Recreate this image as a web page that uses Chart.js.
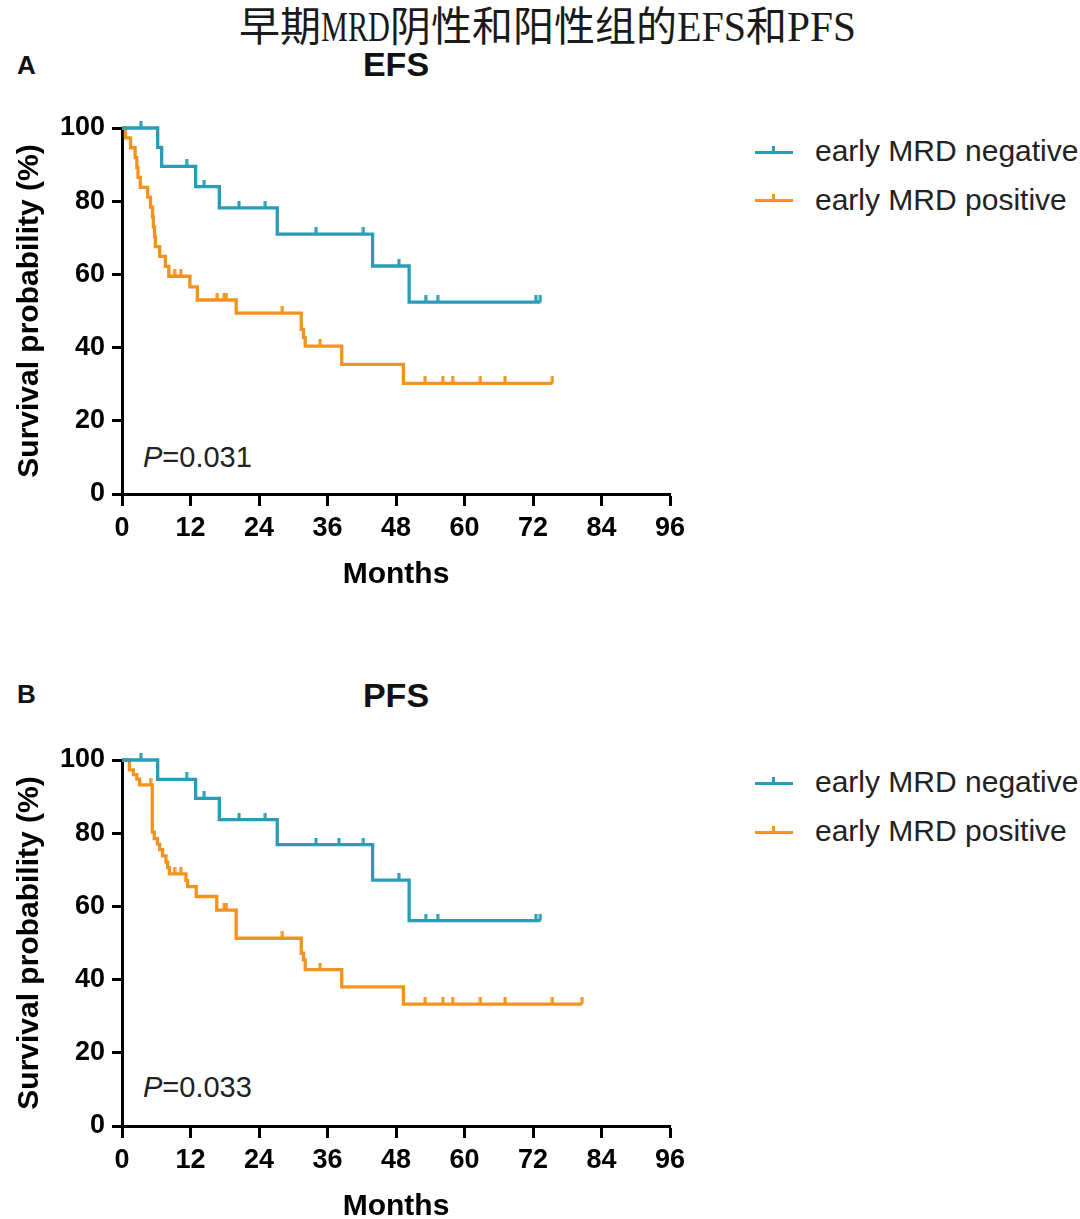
<!DOCTYPE html>
<html>
<head>
<meta charset="utf-8">
<script src="https://cdn.jsdelivr.net/npm/chart.js@4.4.1/dist/chart.umd.min.js"></script>
<style>
  html, body { margin:0; padding:0; background:#fff; overflow:hidden; width:1080px; height:1219px; }
  body { position:relative; font-family:'Liberation Sans', Arial, sans-serif; color:#111; }
  .abs { position:absolute; white-space:nowrap; }
  #title { left:0; width:1095px; top:-2px; text-align:center; font-size:41px; line-height:50px; color:#1a1a1a; }
  #title .cjk { font-family:'Noto Sans CJK SC', sans-serif; font-weight:400; }
  #title .lat { display:inline-block; font-family:'Liberation Serif', serif; font-size:42px; vertical-align:baseline; }
  #title .lat > span { display:inline-block; transform-origin:0 50%; }
  .panel { font-weight:bold; font-size:26px; }
  .ctitle { font-weight:bold; font-size:34px; transform:translateX(-50%); }
  .pval { font-size:29px; color:#222; }
  .leg { font-size:30px; color:#222; }
  .legline { position:absolute; width:38px; height:3px; }
  .legline i { position:absolute; left:17px; top:-5px; width:3px; height:6px; background:inherit; }
  canvas { position:absolute; left:0; }
</style>
</head>
<body>
<div id="title" class="abs"><span class="cjk">早期</span><span class="lat"><span>MRD</span></span><span class="cjk">阴性和阳性组的</span><span class="lat"><span>EFS</span></span><span class="cjk">和</span><span class="lat"><span>PFS</span></span></div>

<div class="abs panel" style="left:17px; top:50px;">A</div>
<div class="abs ctitle" style="left:396px; top:45px;">EFS</div>
<div class="abs panel" style="left:17px; top:679px;">B</div>
<div class="abs ctitle" style="left:396px; top:676px;">PFS</div>

<div class="abs pval" style="left:143px; top:441px;"><i>P</i>=0.031</div>
<div class="abs pval" style="left:143px; top:1071px;"><i>P</i>=0.033</div>

<div class="legline" style="left:755px; top:151px; background:#2a9cb6;"><i></i></div>
<div class="abs leg" style="left:815px; top:134px;">early MRD negative</div>
<div class="legline" style="left:755px; top:199px; background:#f3931f;"><i></i></div>
<div class="abs leg" style="left:815px; top:183px;">early MRD positive</div>

<div class="legline" style="left:755px; top:782px; background:#2a9cb6;"><i></i></div>
<div class="abs leg" style="left:815px; top:765px;">early MRD negative</div>
<div class="legline" style="left:755px; top:831px; background:#f3931f;"><i></i></div>
<div class="abs leg" style="left:815px; top:814px;">early MRD positive</div>

<canvas id="efs" width="700" height="504" style="top:90px;"></canvas>
<canvas id="pfs" width="700" height="504" style="top:722px;"></canvas>

<script>
// ---------------- DATA ----------------
const xTicks = [0, 12, 24, 36, 48, 60, 72, 84, 96];
const yTicks = [0, 20, 40, 60, 80, 100];
const seriesNames = ['early MRD negative', 'early MRD positive'];

// EFS - early MRD negative
const efsNegTimes  = [0, 6.25, 6.95, 12.9, 17.05, 27.2, 43.9, 50.3];
const efsNegSurv   = [100, 94.7, 89.5, 84.0, 78.2, 71.0, 62.3, 52.4];
const efsNegCensor = [3.3, 11.3, 14.4, 20.5, 25.1, 34.0, 42.3, 48.5, 53.2, 55.3, 72.5, 73.3];

// EFS - early MRD positive
const efsPosTimes  = [0, 0.6, 1.5, 2.3, 2.6, 2.8, 3.2, 4.5, 5.0, 5.35, 5.5, 5.7, 5.85, 6.6, 7.6, 8.2, 11.9, 13.2, 20.0, 31.4, 31.8, 32.1, 38.5, 49.3];
const efsPosSurv   = [100, 97.3, 94.6, 91.9, 89.2, 86.5, 83.8, 81.1, 78.4, 75.7, 73.0, 70.3, 67.6, 64.9, 62.2, 59.5, 56.6, 53.0, 49.4, 45.0, 42.7, 40.4, 35.4, 30.2];
const efsPosCensor = [9.2, 10.3, 16.7, 17.9, 18.3, 28.1, 34.7, 53.1, 56.2, 57.9, 62.8, 67.1, 75.4];

// PFS - early MRD negative
const pfsNegTimes  = [0, 6.25, 12.9, 17.05, 27.2, 43.9, 50.3];
const pfsNegSurv   = [100, 94.7, 89.5, 83.7, 76.9, 67.2, 56.1];
const pfsNegCensor = [3.3, 11.3, 14.4, 20.5, 25.1, 34.0, 38.0, 42.3, 48.5, 53.2, 55.3, 72.5, 73.3];

// PFS - early MRD positive
const pfsPosTimes  = [0, 1.3, 2.0, 2.6, 3.1, 5.3, 5.65, 6.2, 6.6, 7.1, 7.7, 8.0, 8.3, 11.2, 11.5, 13.0, 16.6, 20.0, 31.4, 31.8, 32.1, 38.5, 49.3];
const pfsPosSurv   = [100, 97.3, 96.0, 94.8, 93.2, 80.3, 78.5, 77.0, 75.5, 73.8, 72.1, 70.6, 68.9, 67.1, 65.4, 62.7, 59.0, 51.3, 47.2, 45.4, 42.7, 38.0, 33.3];
const pfsPosCensor = [5.0, 9.2, 10.3, 17.9, 18.3, 28.1, 34.7, 53.1, 56.2, 57.9, 62.8, 67.1, 75.4, 80.6];

// ---------------- STYLE ----------------
const BLUE = '#2a9cb6';
const ORANGE = '#f3931f';
const FONT = "'Liberation Sans', Arial, sans-serif";

// title: condense Latin segments
document.querySelectorAll('#title .lat').forEach(function (outer) {
  const inner = outer.firstElementChild;
  const natural = inner.getBoundingClientRect().width;
  const target = inner.textContent.length * 23;
  outer.style.width = target + 'px';
  inner.style.transform = 'scaleX(' + (target / natural) + ')';
});

function tickImage(color) {
  const c = document.createElement('canvas');
  c.width = 4; c.height = 14;
  const g = c.getContext('2d');
  g.fillStyle = color;
  g.fillRect(0.5, 0, 3, 7);
  return c;
}

function survAt(times, surv, t) {
  let s = surv[0];
  for (let i = 0; i < times.length; i++) { if (times[i] <= t) s = surv[i]; }
  return s;
}

function curve(times, surv, censor) {
  const pts = times.map(function (t, i) { return { x: t, y: surv[i] }; });
  const last = Math.max.apply(null, censor.concat(times));
  pts.push({ x: last, y: survAt(times, surv, last) });
  return pts;
}
function marks(times, surv, censor) {
  return censor.map(function (t) { return { x: t, y: survAt(times, surv, t) }; });
}

function makeChart(id, neg, pos) {
  const tickFont = { family: FONT, size: 27, weight: 'bold' };
  const titleFont = { family: FONT, size: 30, weight: 'bold' };
  const gridOpts = { display: true, drawOnChartArea: false, drawTicks: true, tickWidth: 3, tickColor: '#000' };
  return new Chart(document.getElementById(id), {
    type: 'line',
    data: {
      datasets: [
        { label: seriesNames[0], data: curve(neg[0], neg[1], neg[2]), stepped: true, borderColor: BLUE, borderWidth: 3.3, pointRadius: 0, fill: false, clip: false },
        { label: seriesNames[0] + ' censored', data: marks(neg[0], neg[1], neg[2]), showLine: false, pointStyle: tickImage(BLUE), pointRadius: 7, clip: false },
        { label: seriesNames[1], data: curve(pos[0], pos[1], pos[2]), stepped: true, borderColor: ORANGE, borderWidth: 3.3, pointRadius: 0, fill: false, clip: false },
        { label: seriesNames[1] + ' censored', data: marks(pos[0], pos[1], pos[2]), showLine: false, pointStyle: tickImage(ORANGE), pointRadius: 7, clip: false }
      ]
    },
    options: {
      responsive: false, animation: false, devicePixelRatio: 1,
      layout: { padding: { left: 0, right: 30, top: 38, bottom: 0 } },
      plugins: { legend: { display: false }, tooltip: { enabled: false }, title: { display: false } },
      scales: {
        x: {
          type: 'linear', min: 0, max: 96,
          afterBuildTicks: function (s) { s.ticks = xTicks.map(function (v) { return { value: v }; }); },
          ticks: { color: '#000', font: tickFont, padding: 6, maxRotation: 0, autoSkip: false },
          grid: Object.assign({}, gridOpts, { tickLength: 12 }),
          border: { display: true, color: '#000', width: 3 },
          title: { display: true, text: 'Months', color: '#000', font: titleFont, padding: { top: 0, bottom: 1 } },
          afterFit: function (s) { s.height = 100; }
        },
        y: {
          min: 0, max: 100,
          afterBuildTicks: function (s) { s.ticks = yTicks.map(function (v) { return { value: v }; }); },
          ticks: { color: '#000', font: tickFont, padding: 7, autoSkip: false },
          grid: Object.assign({}, gridOpts, { tickLength: 10 }),
          border: { display: true, color: '#000', width: 3 },
          title: { display: true, text: 'Survival probability (%)', color: '#000', font: titleFont, padding: { top: 12, bottom: 0 } },
          afterFit: function (s) { s.width = 122; }
        }
      }
    }
  });
}

makeChart('efs', [efsNegTimes, efsNegSurv, efsNegCensor], [efsPosTimes, efsPosSurv, efsPosCensor]);
makeChart('pfs', [pfsNegTimes, pfsNegSurv, pfsNegCensor], [pfsPosTimes, pfsPosSurv, pfsPosCensor]);
</script>
</body>
</html>
